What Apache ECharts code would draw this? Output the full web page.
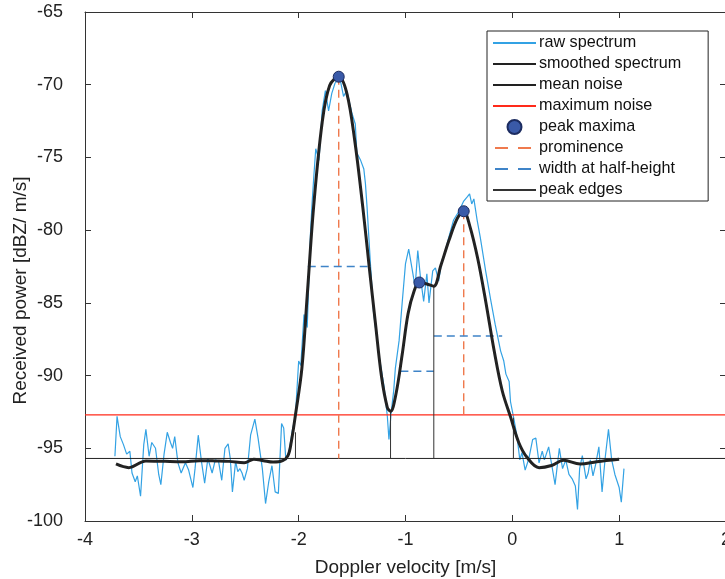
<!DOCTYPE html>
<html>
<head>
<meta charset="utf-8">
<script src="https://cdn.jsdelivr.net/npm/echarts@6/dist/echarts.min.js"></script>
<style>html,body{margin:0;padding:0;background:#fff}#c{width:725px;height:579px}</style>
</head>
<body>
<div id="c"></div>
<script>
// ---- data ----
const rawV = [-3.72,-3.70,-3.67,-3.64,-3.61,-3.58,-3.56,-3.53,-3.51,-3.48,-3.45,-3.43,-3.40,-3.375,-3.34,-3.31,-3.29,-3.26,-3.23,-3.20,-3.18,-3.16,-3.13,-3.10,-3.06,-3.03,-2.99,-2.97,-2.94,-2.91,-2.88,-2.85,-2.81,-2.78,-2.75,-2.72,-2.69,-2.66,-2.64,-2.62,-2.59,-2.57,-2.55,-2.53,-2.51,-2.48,-2.45,-2.41,-2.38,-2.34,-2.31,-2.28,-2.25,-2.22,-2.19,-2.16,-2.14,-2.12,-2.09,-2.06,-2.03,-2.00,-1.98,-1.95,-1.92,-1.89,-1.875,-1.86,-1.84,-1.81,-1.78,-1.75,-1.72,-1.69,-1.66,-1.63,-1.61,-1.58,-1.55,-1.50,-1.47,-1.455,-1.42,-1.39,-1.375,-1.36,-1.33,-1.30,-1.25,-1.20,-1.17,-1.155,-1.135,-1.11,-1.095,-1.06,-1.03,-1.00,-0.97,-0.94,-0.91,-0.885,-0.86,-0.83,-0.80,-0.78,-0.745,-0.72,-0.69,-0.66,-0.63,-0.595,-0.55,-0.50,-0.455,-0.42,-0.40,-0.38,-0.36,-0.33,-0.30,-0.25,-0.20,-0.16,-0.11,-0.08,-0.06,-0.03,-0.017,0.015,0.046,0.07,0.09,0.12,0.155,0.19,0.22,0.25,0.28,0.30,0.34,0.37,0.40,0.44,0.47,0.50,0.53,0.56,0.59,0.61,0.63,0.655,0.69,0.71,0.73,0.755,0.78,0.81,0.84,0.87,0.90,0.93,0.96,1.00,1.02,1.045];
const rawP = [-95.55,-92.8,-94.2,-94.75,-95.4,-95.2,-96.7,-97.3,-96.9,-98.3,-94.75,-93.7,-95.55,-94.6,-95.0,-96.8,-97.5,-95.4,-93.9,-94.6,-95.0,-94.2,-96.0,-96.7,-96.0,-96.5,-97.7,-96.4,-94.1,-95.9,-97.4,-95.7,-96.7,-95.8,-95.9,-97.2,-95.0,-94.7,-95.7,-98.0,-95.9,-96.6,-96.4,-96.7,-97.2,-96.4,-94.1,-93.0,-94.3,-96.4,-98.8,-97.3,-96.2,-98.0,-98.1,-93.3,-93.6,-95.8,-95.2,-93.8,-92.7,-89.0,-89.3,-85.8,-86.7,-80.3,-78.2,-76.5,-74.4,-75.2,-71.8,-70.4,-71.8,-70.6,-69.9,-69.6,-69.7,-70.8,-70.4,-72.0,-72.7,-74.7,-75.2,-75.8,-76.8,-78.4,-82.1,-85.6,-88.5,-90.8,-92.8,-94.4,-92.6,-91.0,-89.5,-87.6,-84.9,-82.3,-81.3,-82.6,-83.9,-81.4,-83.25,-84.9,-83.0,-85.0,-82.8,-82.6,-83.5,-82.1,-81.5,-80.5,-79.3,-78.7,-78.0,-77.7,-77.5,-78.2,-77.85,-79.3,-80.5,-82.8,-84.9,-86.5,-88.3,-89.0,-89.9,-90.4,-91.8,-93.0,-94.3,-95.8,-95.3,-96.5,-95.7,-94.4,-94.3,-96.0,-95.2,-95.8,-94.9,-96.2,-97.5,-95.0,-96.4,-95.8,-96.8,-97.1,-97.6,-99.2,-96.4,-95.5,-97.1,-96.7,-95.8,-96.9,-96.1,-94.9,-98.0,-95.6,-93.7,-95.8,-96.8,-97.7,-98.7,-96.4];

const smoothV = [-3.71,-3.59,-3.43,-3.25,-3.09,-2.93,-2.78,-2.65,-2.51,-2.42,-2.33,-2.24,-2.15,-2.10,-2.07,-2.03,-1.97,-1.92,-1.86,-1.78,-1.71,-1.625,-1.55,-1.475,-1.40,-1.34,-1.28,-1.225,-1.17,-1.14,-1.09,-1.03,-0.976,-0.92,-0.87,-0.80,-0.735,-0.67,-0.593,-0.516,-0.455,-0.40,-0.324,-0.247,-0.17,-0.094,-0.017,0.06,0.137,0.25,0.367,0.48,0.635,0.79,1.0];
const smoothP = [-96.08,-96.33,-95.87,-95.9,-95.92,-95.85,-95.87,-95.9,-96.0,-95.75,-95.85,-95.95,-95.85,-95.5,-94.6,-92.7,-89.5,-84.5,-78.4,-72.6,-70.05,-69.45,-70.56,-73.85,-78.4,-82.5,-86.5,-90.05,-92.2,-92.46,-91.3,-88.5,-85.75,-84.2,-83.6,-83.7,-83.85,-82.45,-80.7,-79.2,-78.7,-79.67,-81.95,-84.99,-88.3,-91.06,-92.84,-94.6,-95.62,-96.33,-96.18,-95.82,-96.08,-95.92,-95.75];

const meanNoise = -95.7;
const maxNoise = -92.7;
const axisRangeV = [-4, 2];

const peakV = [-1.625, -0.87, -0.455];
const peakP = [-69.45, -83.6, -78.7];

const promV = [-1.625, -0.455];
const promTop = [-69.45, -78.7];
const promBottom = [-95.7, -92.7];

const halfLeft = [-1.915, -1.048, -0.735];
const halfRight = [-1.355, -0.735, -0.095];
const halfP = [-82.5, -89.7, -87.28];

const edgeV = [-2.03, -1.14, -0.735, 0.01];
const edgeTop = [-93.9, -92.46, -83.85, -92.9];

const xTicks = [-4, -3, -2, -1, 0, 1, 2];
const yTicks = [-100, -95, -90, -85, -80, -75, -70, -65];

// ---- build ----
const FONT = 'Liberation Sans';
const zip = (a, b) => a.map((v, i) => [v, b[i]]);
const series = [];
series.push({name:'raw spectrum', type:'line', data: zip(rawV, rawP), symbol:'none', lineStyle:{color:'#33a2e4', width:1.2}, itemStyle:{color:'#33a2e4'}, z:2});
series.push({name:'smoothed spectrum', type:'line', data: zip(smoothV, smoothP), symbol:'none', smooth:0.35, lineStyle:{color:'#222', width:3}, itemStyle:{color:'#222'}, z:5});
series.push({name:'mean noise', type:'line', data: axisRangeV.map(v => [v, meanNoise]), symbol:'none', lineStyle:{color:'#222', width:1}, itemStyle:{color:'#222'}, z:3});
series.push({name:'maximum noise', type:'line', data: axisRangeV.map(v => [v, maxNoise]), symbol:'none', lineStyle:{color:'#ff2a1a', width:1.2}, itemStyle:{color:'#ff2a1a'}, z:3});
series.push({name:'peak maxima', type:'scatter', data: zip(peakV, peakP), symbol:'circle', symbolSize:11, itemStyle:{color:'#3a5aa8', borderColor:'#1c2c60', borderWidth:1, opacity:1}, z:8});
promV.forEach((v, i) => series.push({name:'prominence', type:'line', data:[[v, promTop[i]], [v, promBottom[i]]], symbol:'none', lineStyle:{color:'#ef7a4e', width:1.4, type:[8,5]}, itemStyle:{color:'#ef7a4e'}, z:4}));
halfP.forEach((p, i) => series.push({name:'width at half-height', type:'line', data:[[halfLeft[i], p], [halfRight[i], p]], symbol:'none', lineStyle:{color:'#3f84c8', width:1.4, type:[8,5]}, itemStyle:{color:'#3f84c8'}, z:4}));
edgeV.forEach((v, i) => series.push({name:'peak edges', type:'line', data:[[v, meanNoise], [v, edgeTop[i]]], symbol:'none', lineStyle:{color:'#333', width:1}, itemStyle:{color:'#333'}, z:4}));

const axisCommon = {
  axisLine:{show:true, onZero:false, lineStyle:{color:'#333', width:1}},
  axisTick:{show:true, inside:true, length:6, lineStyle:{color:'#333'}},
  splitLine:{show:false}
};

const legendNames = ['raw spectrum','smoothed spectrum','mean noise','maximum noise','peak maxima','prominence','width at half-height','peak edges'];
const legendData = legendNames.map(n => {
  if (n === 'peak maxima') return {name:n};
  const item = {name:n, itemStyle:{opacity:0}};
  if (n === 'prominence' || n === 'width at half-height') item.lineStyle = {type:[13,10], dashOffset:-2};
  return item;
});

const chart = echarts.init(document.getElementById('c'), null, {renderer:'canvas'});
chart.setOption({
  animation:false,
  backgroundColor:'#fff',
  textStyle:{fontFamily:FONT},
  grid:{left:85, right:-1, top:12, bottom:58, containLabel:false, outerBoundsMode:'none'},
  xAxis:[
    Object.assign({type:'value', min:xTicks[0], max:xTicks[xTicks.length-1], interval:1, position:'bottom',
      name:'Doppler velocity [m/s]', nameLocation:'middle', nameGap:37, nameMoveOverlap:false,
      nameTextStyle:{fontFamily:FONT, fontSize:19, color:'#222'},
      axisLabel:{fontFamily:FONT, fontSize:18, color:'#222', margin:10}}, axisCommon),
    Object.assign({type:'value', min:xTicks[0], max:xTicks[xTicks.length-1], interval:1, position:'top',
      axisLabel:{show:false}}, axisCommon)
  ],
  yAxis:[
    Object.assign({type:'value', min:yTicks[0], max:yTicks[yTicks.length-1], interval:5, position:'left',
      name:'Received power [dBZ/ m/s]', nameLocation:'middle', nameGap:55, nameMoveOverlap:false,
      nameTextStyle:{fontFamily:FONT, fontSize:19, color:'#222', padding:[0,48,0,0]},
      axisLabel:{fontFamily:FONT, fontSize:18, color:'#222', margin:22}}, axisCommon),
    Object.assign({type:'value', min:yTicks[0], max:yTicks[yTicks.length-1], interval:5, position:'right',
      axisLabel:{show:false}}, axisCommon)
  ],
  legend:{
    orient:'vertical', left:487, top:31,
    data:legendData,
    itemWidth:43, itemHeight:14, itemGap:5,
    padding:[4, 27, 3, 5],
    borderColor:'#222', borderWidth:1, backgroundColor:'#fff',
    textStyle:{fontFamily:FONT, fontSize:16.2, color:'#111', padding:[0,0,0,-2]},
    selectedMode:false
  },
  series: series
});
</script>
</body>
</html>
